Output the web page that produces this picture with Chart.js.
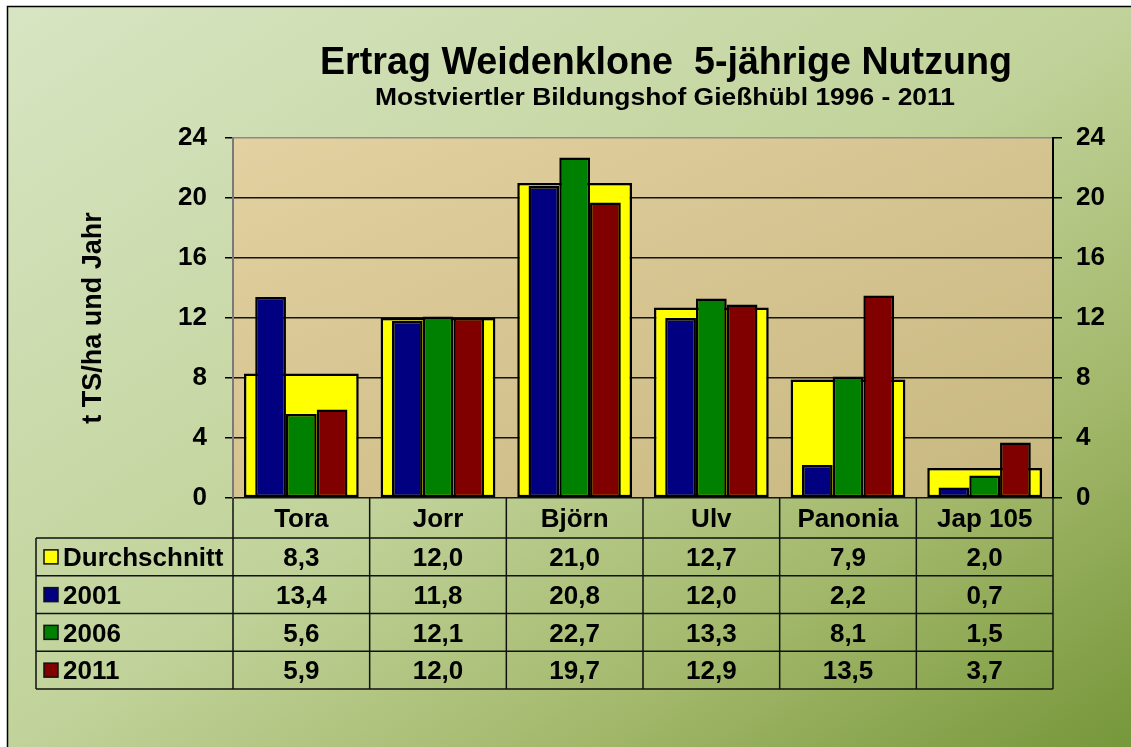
<!DOCTYPE html>
<html lang="de">
<head>
<meta charset="utf-8">
<title>Ertrag Weidenklone</title>
<script src="https://cdn.jsdelivr.net/npm/chart.js@4.4.1/dist/chart.umd.min.js"></script>
<style>
    html, body { margin: 0; padding: 0; overflow: hidden; background: #fff; }
    #wrap { width: 1131px; height: 747px; }
</style>
</head>
<body>
<div id="wrap"><canvas id="ertragChart" width="1131" height="747"></canvas></div>
<script>
// Werte aus der Datentabelle (t TS/ha und Jahr)
const categories = ['Tora', 'Jorr', 'Björn', 'Ulv', 'Panonia', 'Jap 105'];
const durchschnitt = [8.3, 12.0, 21.0, 12.7, 7.9, 2.0];
const jahr2001 = [13.4, 11.8, 20.8, 12.0, 2.2, 0.7];
const jahr2006 = [5.6, 12.1, 22.7, 13.3, 8.1, 1.5];
const jahr2011 = [5.9, 12.0, 19.7, 12.9, 13.5, 3.7];
const seriesNames = ['Durchschnitt', '2001', '2006', '2011'];
const yTicks = [0, 4, 8, 12, 16, 20, 24];

const titleText = 'Ertrag Weidenklone  5-jährige Nutzung';
const subtitleText = 'Mostviertler Bildungshof Gießhübl 1996 - 2011';
const yTitleText = 't TS/ha und Jahr';

const colors = ['#ffff00', '#000080', '#008000', '#800000'];
const FONT = '"Liberation Sans", Arial, sans-serif';

const fmt = v => v.toFixed(1).replace('.', ',');

// draw text squeezed/stretched to a target width
function fitText(ctx, text, cx, baseline, targetWidth) {
    const w = ctx.measureText(text).width;
    ctx.save();
    ctx.translate(cx, baseline);
    ctx.scale(targetWidth / w, 1);
    ctx.textAlign = 'center';
    ctx.fillText(text, 0, 0);
    ctx.restore();
}

// 45 degree gradient in box-relative terms (like Office fills)
function boxGradient(ctx, x, y, w, h, stops) {
    const s = 2 * w * h / (w * w + h * h);
    const g = ctx.createLinearGradient(x, y, x + h * s, y + w * s);
    stops.forEach(([t, c]) => g.addColorStop(t, c));
    return g;
}

const backgroundPlugin = {
    id: 'background',
    beforeDraw(chart) {
        const { ctx, width, height, chartArea: a } = chart;
        ctx.save();
        ctx.fillStyle = '#fff';
        ctx.fillRect(0, 0, width, height);
        ctx.fillStyle = boxGradient(ctx, 7, 6, width - 7, height - 6, [
            [0, '#d8e5c3'], [0.5, '#c1d39a'], [0.75, '#a3b86b'], [1, '#76973a']
        ]);
        ctx.fillRect(7, 6, width, height);
        ctx.strokeStyle = '#000';
        ctx.lineWidth = 1.5;
        ctx.strokeRect(7.5, 6.5, width, height);

        ctx.fillStyle = boxGradient(ctx, a.left, a.top, a.width, a.height, [
            [0, '#e3d1a1'], [1, '#c7b77f']
        ]);
        ctx.fillRect(a.left, a.top, a.width, a.height);
        ctx.restore();
    }
};

const titlePlugin = {
    id: 'titles',
    afterDraw(chart) {
        const { ctx } = chart;
        ctx.save();
        ctx.fillStyle = '#000';
        ctx.font = 'bold 38px ' + FONT;
        fitText(ctx, titleText, 666, 74, 692);
        ctx.font = 'bold 23px ' + FONT;
        fitText(ctx, subtitleText, 665, 105, 580);
        ctx.restore();
    }
};

const tablePlugin = {
    id: 'dataTable',
    afterDraw(chart) {
        const { ctx, chartArea: a } = chart;
        const xs = chart.scales.x;
        const half = (xs.getPixelForValue(1) - xs.getPixelForValue(0)) / 2;
        const tableLeft = 36;
        const tableRight = xs.getPixelForValue(categories.length - 1) + half;
        const headTop = a.bottom;
        const headBottom = a.bottom + 40;
        const rowH = 37.75;
        const rows = [durchschnitt, jahr2001, jahr2006, jahr2011];
        const tableBottom = headBottom + rowH * rows.length;

        ctx.save();
        ctx.strokeStyle = '#111';
        ctx.lineWidth = 1.5;
        ctx.beginPath();
        for (let r = 0; r <= rows.length; r++) {
            const y = headBottom + r * rowH;
            ctx.moveTo(tableLeft, y);
            ctx.lineTo(tableRight, y);
        }
        ctx.moveTo(tableLeft, headBottom);
        ctx.lineTo(tableLeft, tableBottom);
        for (let i = 0; i <= categories.length; i++) {
            const x = i < categories.length ? xs.getPixelForValue(i) - half : tableRight;
            ctx.moveTo(x, headTop);
            ctx.lineTo(x, tableBottom);
        }
        ctx.stroke();

        const size = 26;
        ctx.fillStyle = '#000';
        ctx.font = 'bold ' + size + 'px ' + FONT;
        ctx.textBaseline = 'alphabetic';
        const capOff = size * 0.36;

        ctx.textAlign = 'center';
        categories.forEach((c, i) => {
            ctx.fillText(c, xs.getPixelForValue(i), (headTop + headBottom) / 2 + capOff);
        });

        rows.forEach((vals, r) => {
            const cy = headBottom + r * rowH + rowH / 2;
            // legend key
            ctx.fillStyle = colors[r];
            ctx.fillRect(44, cy - 7, 14, 14);
            ctx.strokeRect(44, cy - 7, 14, 14);
            ctx.fillStyle = '#000';
            ctx.textAlign = 'left';
            ctx.fillText(seriesNames[r], 63, cy + capOff);
            ctx.textAlign = 'center';
            vals.forEach((v, i) => {
                ctx.fillText(fmt(v), xs.getPixelForValue(i), cy + capOff);
            });
        });
        ctx.restore();
    }
};

const frontBar = (label, data, color) => ({
    label,
    data,
    backgroundColor: color,
    borderColor: '#000',
    borderWidth: 2.5,
    borderSkipped: false,
    categoryPercentage: 0.675,
    barPercentage: 1,
    order: 0
});

new Chart(document.getElementById('ertragChart'), {
    type: 'bar',
    data: {
        labels: categories,
        datasets: [
            {
                label: seriesNames[0],
                data: durchschnitt,
                backgroundColor: colors[0],
                borderColor: '#000',
                borderWidth: 2.5,
                borderSkipped: false,
                grouped: false,
                categoryPercentage: 0.84,
                barPercentage: 1,
                order: 1
            },
            frontBar(seriesNames[1], jahr2001, colors[1]),
            frontBar(seriesNames[2], jahr2006, colors[2]),
            frontBar(seriesNames[3], jahr2011, colors[3])
        ]
    },
    options: {
        responsive: false,
        animation: false,
        layout: { padding: { left: 60, right: 0, top: 138, bottom: 249 } },
        plugins: {
            legend: { display: false },
            title: { display: false },
            tooltip: { enabled: false }
        },
        scales: {
            x: { display: false },
            y: {
                position: 'left',
                min: yTicks[0],
                max: yTicks[yTicks.length - 1],
                afterFit: s => { s.width = 173; },
                afterBuildTicks: s => { s.ticks = yTicks.map(v => ({ value: v })); },
                ticks: { color: '#000', font: { family: FONT, size: 26, weight: 'bold' }, padding: 18 },
                grid: {
                    color: c => (c.tick && c.tick.value === 24 ? '#8a8a8a' : '#141414'),
                    tickColor: '#000',
                    tickLength: 8,
                    lineWidth: 1.5
                },
                border: { color: '#7a7a7a', width: 2 },
                title: {
                    display: true,
                    text: yTitleText,
                    color: '#000',
                    font: { family: FONT, size: 27, weight: 'bold' },
                    padding: { top: 17, bottom: 0 }
                }
            },
            y2: {
                position: 'right',
                min: yTicks[0],
                max: yTicks[yTicks.length - 1],
                afterFit: s => { s.width = 78; },
                afterBuildTicks: s => { s.ticks = yTicks.map(v => ({ value: v })); },
                ticks: { color: '#000', font: { family: FONT, size: 26, weight: 'bold' }, padding: 14 },
                grid: { drawOnChartArea: false, tickColor: '#000', tickLength: 9, lineWidth: 1.5 },
                border: { color: '#000', width: 2 }
            }
        }
    },
    plugins: [backgroundPlugin, titlePlugin, tablePlugin]
});
</script>
</body>
</html>
